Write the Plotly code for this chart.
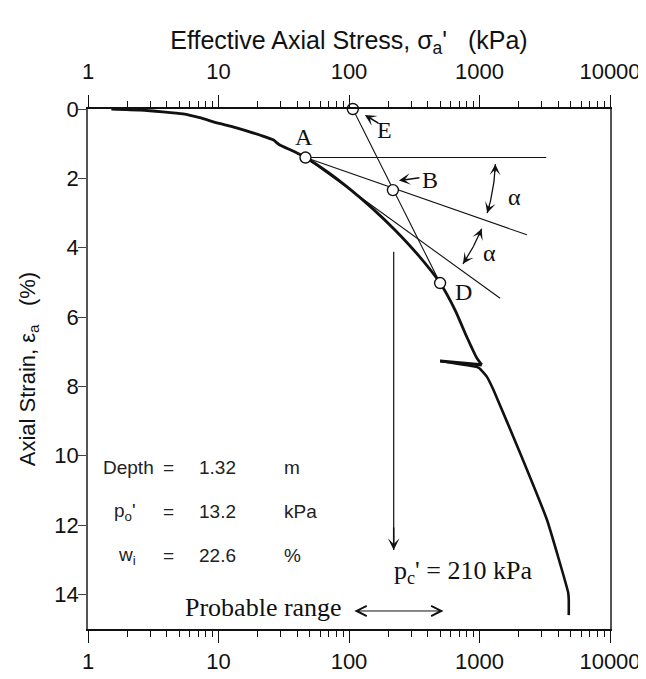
import math
import plotly.graph_objects as go

# ---------------- data ----------------
load_stress = [1.51, 2.5, 3.73, 5.34, 7.17, 9.91, 12.5, 16.4, 20.7, 26.2, 29.5, 37.3,
               46.4, 68.9, 101.6, 152.5, 225, 338, 499, 650, 798, 953, 1041]
load_strain = [0.0, 0.03, 0.08, 0.14, 0.25, 0.41, 0.50, 0.63, 0.75, 0.89, 1.04, 1.21,
               1.40, 1.82, 2.31, 2.88, 3.49, 4.21, 5.02, 5.80, 6.57, 7.18, 7.38]
unload_stress = [1041, 499]
unload_strain = [7.38, 7.27]
reload_stress = [499, 981, 1060, 1138, 1278, 2050, 3287, 4780, 4830, 4830]
reload_strain = [7.27, 7.46, 7.58, 7.72, 8.10, 9.93, 11.85, 13.95, 14.15, 14.60]

point_names = ["A", "B", "D", "E"]
point_stress = [46.4, 217, 499, 107]
point_strain = [1.40, 2.34, 5.02, 0.0]

horizontal_end = [3245, 1.40]
bisector_end = [2307, 3.63]
tangent_end = [1439, 5.46]

pc_value = 210
pc_arrow_stress = 220
pc_arrow_strain = [4.12, 12.72]
probable_range = [107, 530]
probable_strain = 14.48

x_ticks = [1, 10, 100, 1000, 10000]
x_ticktext = ["1", "10", "100", "1000", "10000"]
y_ticks = [0, 2, 4, 6, 8, 10, 12, 14]

info_labels = ["Depth", "p<sub>o</sub>'", "w<sub>i</sub>"]
info_values = ["1.32", "13.2", "22.6"]
info_units = ["m", "kPa", "%"]

# ---------------- layout geometry ----------------
# the page body has an 8px margin, so the figure is shifted by 8px
W, H = 638, 671
ML, MR, MT, MB = 80, 36, 101, 50
PW, PH = W - ML - MR, H - MT - MB
PXD = PW / 4.0      # pixels per decade
PXY = PH / 15.0     # pixels per % strain

SERIF = "Liberation Serif, Times New Roman, serif"
SANS = "Liberation Sans, Arial, sans-serif"
INK = "#111111"

A = dict(zip(point_names, zip(point_stress, point_strain)))
Ax, Ay = A["A"]


def off(x0, y0, dx, dy):
    return x0 * 10 ** (dx / PXD), y0 + dy / PXY


fig = go.Figure()

line_style = dict(color=INK, width=1.1)

# construction lines
fig.add_trace(go.Scatter(x=[Ax, horizontal_end[0]], y=[Ay, horizontal_end[1]],
                         mode="lines", line=line_style, hoverinfo="skip"))
fig.add_trace(go.Scatter(x=[Ax, bisector_end[0]], y=[Ay, bisector_end[1]],
                         mode="lines", line=line_style, hoverinfo="skip"))
fig.add_trace(go.Scatter(x=[Ax, tangent_end[0]], y=[Ay, tangent_end[1]],
                         mode="lines", line=line_style, hoverinfo="skip"))
fig.add_trace(go.Scatter(x=[A["E"][0], A["D"][0]], y=[A["E"][1], A["D"][1]],
                         mode="lines", line=line_style, hoverinfo="skip", cliponaxis=False))

# consolidation curve
fig.add_trace(go.Scatter(x=load_stress, y=load_strain, mode="lines",
                         line=dict(color=INK, width=2.8, shape="spline", smoothing=0.6),
                         hoverinfo="skip", cliponaxis=False))
fig.add_trace(go.Scatter(x=unload_stress, y=unload_strain, mode="lines",
                         line=dict(color=INK, width=3.2), hoverinfo="skip"))
fig.add_trace(go.Scatter(x=reload_stress, y=reload_strain, mode="lines",
                         line=dict(color=INK, width=2.6, shape="spline", smoothing=0.4),
                         hoverinfo="skip"))

# pc' vertical line
fig.add_trace(go.Scatter(x=[pc_arrow_stress, pc_arrow_stress], y=pc_arrow_strain,
                         mode="lines", line=dict(color=INK, width=1.2), hoverinfo="skip"))

# angle arcs (circle around A in screen space)
R = 190
arcs = [(2.0, 17.0), (22.0, 34.0)]
annotations = []
for t0, t1 in arcs:
    n = 30
    xs, ys = [], []
    for i in range(n + 1):
        th = math.radians(t0 + (t1 - t0) * i / n)
        x, y = off(Ax, Ay, R * math.cos(th), R * math.sin(th))
        xs.append(x)
        ys.append(y)
    fig.add_trace(go.Scatter(x=xs, y=ys, mode="lines", line=dict(color=INK, width=1.3),
                             hoverinfo="skip"))
    L = 9
    for th_deg, d in ((t0, -1), (t1, 1)):
        th = math.radians(th_deg)
        tx, ty = off(Ax, Ay, R * math.cos(th), R * math.sin(th))
        if d == -1:
            axp, ayp = -math.sin(th) * L, math.cos(th) * L
        else:
            axp, ayp = math.sin(th) * L, -math.cos(th) * L
        annotations.append(dict(x=math.log10(tx), y=ty, ax=axp, ay=ayp, text="",
                                showarrow=True, arrowhead=3, arrowsize=1.3, arrowwidth=1.4,
                                arrowcolor=INK, standoff=0, startstandoff=0))

# points
fig.add_trace(go.Scatter(x=point_stress, y=point_strain, mode="markers",
                         marker=dict(symbol="circle", size=11, color="white",
                                     line=dict(color=INK, width=1.4)),
                         hoverinfo="skip", cliponaxis=False))

# dummy trace for the top axis
fig.add_trace(go.Scatter(x=[10], y=[0], xaxis="x2", mode="markers",
                         marker=dict(opacity=0), hoverinfo="skip"))

# point labels (positions in screen offsets from the points)
lab_font = dict(family=SERIF, size=24, color=INK)
label_pos = {"A": (-1, -21), "E": (32, 21), "B": (37, -10), "D": (23, 9)}
for nm, (dx, dy) in label_pos.items():
    x, y = off(A[nm][0], A[nm][1], dx, dy)
    annotations.append(dict(x=math.log10(x), y=y, text=nm, showarrow=False, font=lab_font))

# alpha labels
for (dx, dy) in [(209, 39), (184, 95)]:
    x, y = off(Ax, Ay, dx, dy)
    annotations.append(dict(x=math.log10(x), y=y, text="α", showarrow=False, font=lab_font))

# E and B pointer arrows
for nm, (dx, dy), (axp, ayp) in (("E", (12, 6), (15, 9)), ("B", (6, -9.5), (22, -3))):
    x, y = off(A[nm][0], A[nm][1], dx, dy)
    annotations.append(dict(x=math.log10(x), y=y, ax=axp, ay=ayp, text="", showarrow=True,
                            arrowhead=3, arrowsize=1.2, arrowwidth=1.6, arrowcolor=INK,
                            standoff=0, startstandoff=0))

# pc' arrow head
annotations.append(dict(x=math.log10(pc_arrow_stress), y=pc_arrow_strain[1], ax=0, ay=-24,
                        text="", showarrow=True, arrowhead=3, arrowsize=1.3, arrowwidth=1.5,
                        arrowcolor=INK, standoff=0))
annotations.append(dict(x=math.log10(pc_arrow_stress) - 0.015, y=13.35,
                        text="p<sub>c</sub>' = %d kPa" % pc_value, showarrow=False,
                        xanchor="left", font=dict(family=SERIF, size=26, color=INK)))

# probable range
annotations.append(dict(x=math.log10(probable_range[0]) - 0.065, y=probable_strain - 0.1,
                        text="Probable range", showarrow=False, xanchor="right",
                        font=dict(family=SERIF, size=26, color=INK)))
annotations.append(dict(x=math.log10(probable_range[1]), y=probable_strain,
                        ax=-(math.log10(probable_range[1]) - math.log10(probable_range[0])) * PXD,
                        ay=0, text="", showarrow=True, arrowhead=5, arrowside="end+start",
                        arrowsize=2.0, arrowwidth=1.0, arrowcolor=INK,
                        standoff=0, startstandoff=0))

# info box
info_font = dict(family=SANS, size=19, color="#222222")
rows_y = [10.35, 11.62, 12.89]
label_x = [1.263, 1.54, 1.63]
for i in range(3):
    annotations.append(dict(x=math.log10(label_x[i]), y=rows_y[i], text=info_labels[i],
                            xanchor="left", showarrow=False, font=info_font))
    annotations.append(dict(x=math.log10(4.15), y=rows_y[i], text="=",
                            xanchor="center", showarrow=False, font=info_font))
    annotations.append(dict(x=math.log10(6.8), y=rows_y[i], text=info_values[i],
                            xanchor="left", showarrow=False, font=info_font))
    annotations.append(dict(x=math.log10(30.5), y=rows_y[i], text=info_units[i],
                            xanchor="left", showarrow=False, font=info_font))

tick_font = dict(family=SANS, size=22, color=INK)
common_x = dict(type="log", range=[0, 4], tickmode="array", tickvals=x_ticks,
                ticktext=x_ticktext, ticks="outside", ticklen=12, tickwidth=1.2,
                tickcolor=INK, showline=True, linecolor=INK, linewidth=1.5,
                showgrid=False, zeroline=False, tickfont=tick_font, automargin=False,
                minor=dict(ticks="outside", ticklen=6, tickwidth=1, tickcolor=INK,
                           dtick="D1", showgrid=False))

fig.update_layout(
    width=W, height=H,
    margin=dict(l=ML, r=MR, t=MT, b=MB, pad=0, autoexpand=False),
    paper_bgcolor="white", plot_bgcolor="white",
    showlegend=False,
    font=dict(family=SANS, color=INK),
    xaxis=dict(**common_x, side="bottom"),
    xaxis2=dict(**common_x, side="top", overlaying="x", matches="x",
                ticklabelstandoff=7,
                title=dict(text="Effective Axial Stress, σ<sub>a</sub>'\u00a0\u00a0\u00a0(kPa)",
                           font=dict(family=SANS, size=25, color=INK), standoff=3)),
    yaxis=dict(range=[15, 0], tickvals=y_ticks, ticks="outside", ticklen=8, tickwidth=1.2,
               tickcolor="#444444", showline=True, linecolor="#555555", linewidth=1.6,
               mirror=True, showgrid=False, zeroline=False, tickfont=tick_font,
               automargin=False, ticklabelstandoff=-5,
               title=dict(text="Axial Strain, ε<sub>a</sub>\u00a0\u00a0\u00a0(%)",
                          font=dict(family=SANS, size=22, color=INK), standoff=13)),
    annotations=annotations,
)

fig.write_html("out.html")
